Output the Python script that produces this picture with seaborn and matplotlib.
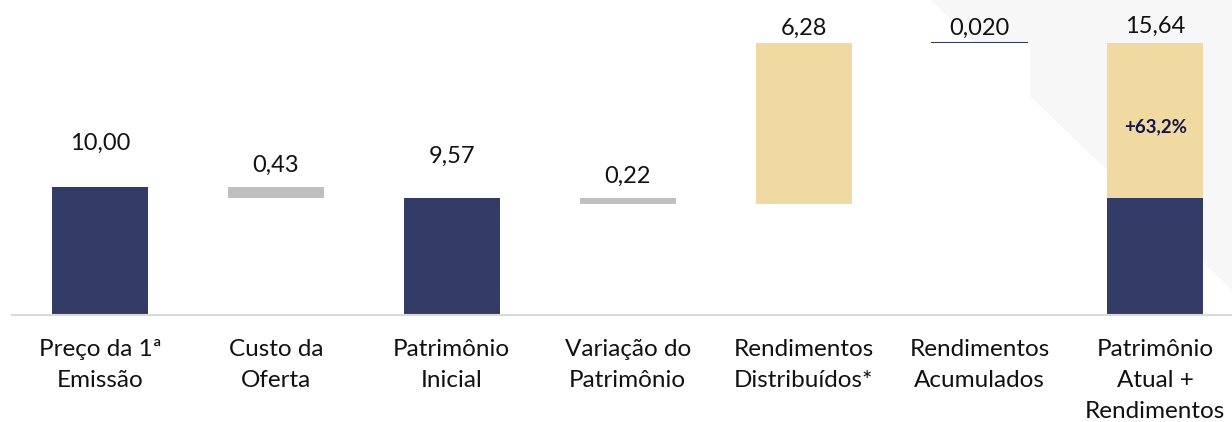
import matplotlib
matplotlib.use("Agg")
import matplotlib.pyplot as plt
from matplotlib.patches import Polygon
import seaborn as sns
import pandas as pd

# dados do gráfico (cascata)
categorias = ["Preço da 1ª\nEmissão", "Custo da\nOferta", "Patrimônio\nInicial",
              "Variação do\nPatrimônio", "Rendimentos\nDistribuídos*",
              "Rendimentos\nAcumulados", "Patrimônio\nAtual +\nRendimentos"]
valores = [10.00, 0.43, 9.57, 0.22, 6.28, 0.020, 15.64]
tipos = ["total", "queda", "total", "queda", "alta", "alta", "total"]
rotulos = ["10,00", "0,43", "9,57", "0,22", "6,28", "0,020", "15,64"]
rotulo_final = "+63,2%"

# cores
NAVY = "#323C66"
CINZA = "#BFBFBF"
BEGE = "#F0DAA2"
cores_topo = [NAVY, CINZA, NAVY, CINZA, BEGE, NAVY, BEGE]

# calcula topo e base de cada barra
topos, bases = [], []
nivel = 0
for v, t in zip(valores, tipos):
    if t == "total":
        topos.append(v); bases.append(0); nivel = v
    elif t == "queda":
        topos.append(nivel); bases.append(nivel - v); nivel = nivel - v
    else:
        bases.append(nivel); topos.append(nivel + v); nivel = nivel + v
# última barra: parte azul = patrimônio inicial
bases[-1] = valores[2]
cores_base = ["white"] * 6 + [NAVY]

df = pd.DataFrame({"cat": categorias, "topo": topos, "base": bases})

sns.set_theme(style="white")
plt.rcParams["font.family"] = ["Lato", "DejaVu Sans"]

W, H = 1232, 422
fig = plt.figure(figsize=(W / 100, H / 100), dpi=100)
fig.patch.set_facecolor("white")

# forma cinza clara de fundo (canto superior direito)
fig.add_artist(Polygon([(930 / W, 1), (1, 1), (1, 1 - 290 / H)], closed=True,
                       transform=fig.transFigure, facecolor="#F7F7F8",
                       edgecolor="none", zorder=0))

ax = fig.add_axes([12 / W, 107 / H, 1220 / W, 315 / H])
ax.set_facecolor("none")

largura = 0.546
sns.barplot(data=df, x="cat", y="topo", hue="cat", order=categorias,
            palette=dict(zip(categorias, cores_topo)), saturation=1,
            width=largura, legend=False, ax=ax, linewidth=0)
# barra muito fina (0,020): contorno para ficar visível
ax.patches[5].set_edgecolor(NAVY)
ax.patches[5].set_linewidth(0.8)
sns.barplot(data=df, x="cat", y="base", hue="cat", order=categorias,
            palette=dict(zip(categorias, cores_base)), saturation=1,
            width=largura + 0.03, legend=False, ax=ax, linewidth=0)
ax.patches[-1].set_width(largura)
ax.patches[-1].set_x(6 - largura / 2)

px_por_unidade = 25.6
ax.set_ylim(5, 5 + 315 / px_por_unidade)
ax.set_xlim(-0.5, -0.5 + 1220 / 175.9)

# rótulos de valor
pad_px = [37, 15, 35, 15, 8, 8, 10]
for i, (t, r) in enumerate(zip(topos, rotulos)):
    ax.annotate(r, xy=(i, t), xytext=(0, pad_px[i]), textcoords="offset pixels",
                ha="center", va="baseline", fontsize=17, color="#111111")

ax.annotate(rotulo_final, xy=(6, (bases[-1] + topos[-1]) / 2), xytext=(0, -6),
            textcoords="offset pixels", ha="center", va="center",
            fontsize=13.5, fontweight="bold", color="#14154A")

# eixos
for s in ["top", "right", "left"]:
    ax.spines[s].set_visible(False)
ax.spines["bottom"].set_color("#D9D9D9")
ax.spines["bottom"].set_linewidth(1.5)
ax.spines["bottom"].set_zorder(5)
ax.set_yticks([])
ax.set_xlabel("")
ax.set_ylabel("")
ax.tick_params(axis="x", length=0, pad=17, labelsize=17.5, labelcolor="#111111")
for lb in ax.get_xticklabels():
    lb.set_linespacing(1.6)

fig.savefig("out.png", dpi=100, facecolor="white")
